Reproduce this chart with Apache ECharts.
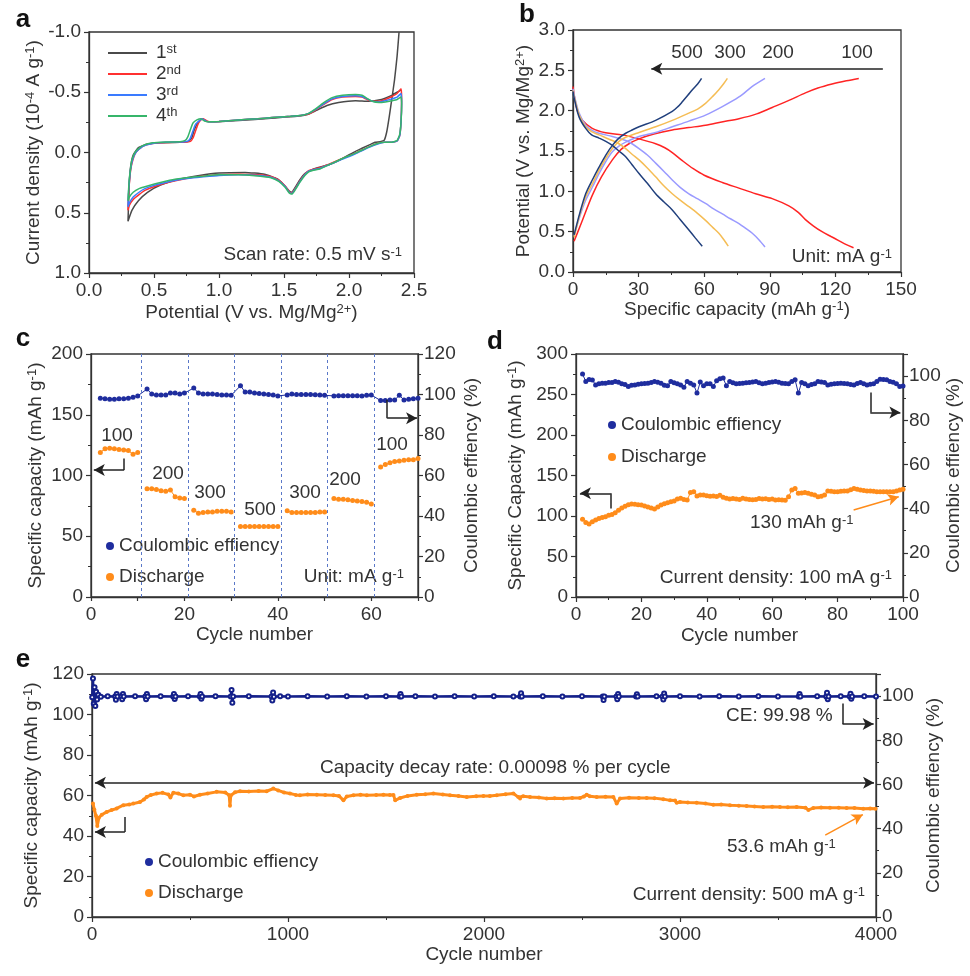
<!DOCTYPE html>
<html><head><meta charset="utf-8">
<script src="https://cdn.jsdelivr.net/npm/echarts@6/dist/echarts.min.js"></script>
<style>html,body{margin:0;padding:0;background:#fff}#c{width:970px;height:976px}</style>
</head><body><div id="c"></div>
<script>
// ---------------- Panel a : CV curves [V, current density] ----------------
const cvNames = ['1st', '2nd', '3rd', '4th'];
const cv1 = [[2.385,-1.0],[2.37,-0.80],[2.35,-0.60],[2.33,-0.45],[2.31,-0.30],[2.29,-0.17],[2.27,-0.10],[2.24,-0.09],[2.20,-0.085],[2.17,-0.07],[2.10,-0.035],[2.05,-0.01],[1.95,0.05],[1.85,0.10],[1.78,0.12],[1.72,0.14],[1.66,0.175],[1.62,0.23],[1.58,0.30],[1.56,0.33],[1.54,0.32],[1.50,0.27],[1.45,0.22],[1.35,0.18],[1.2,0.165],[1.0,0.17],[0.85,0.19],[0.7,0.22],[0.55,0.27],[0.45,0.33],[0.38,0.40],[0.33,0.48],[0.30,0.57],
  [0.305,0.40],[0.31,0.25],[0.32,0.12],[0.34,0.02],[0.38,-0.04],[0.45,-0.07],[0.55,-0.08],[0.7,-0.085],[0.76,-0.09],[0.79,-0.12],[0.81,-0.19],[0.84,-0.25],[0.87,-0.28],[0.9,-0.26],[0.95,-0.255],[1.15,-0.265],[1.4,-0.285],[1.6,-0.30],[1.68,-0.315],[1.75,-0.35],[1.83,-0.39],[1.92,-0.415],[2.05,-0.43],[2.15,-0.425],[2.25,-0.44],[2.32,-0.47],[2.37,-0.50],[2.40,-0.52]];
const cv2 = [[0.30,0.48],[0.303,0.38],[0.31,0.26],[0.32,0.15],[0.335,0.07],[0.36,0.0],[0.41,-0.05],[0.49,-0.075],[0.59,-0.083],[0.74,-0.087],[0.78,-0.093],[0.80,-0.12],[0.82,-0.18],[0.84,-0.24],[0.86,-0.27],[0.88,-0.28],[0.91,-0.26],[0.94,-0.255],[1.0,-0.258],[1.15,-0.27],[1.3,-0.28],[1.41,-0.29],[1.55,-0.30],[1.64,-0.31],[1.69,-0.32],[1.74,-0.35],[1.80,-0.395],[1.87,-0.44],[1.95,-0.46],[2.05,-0.465],[2.10,-0.46],[2.13,-0.445],[2.18,-0.425],[2.23,-0.425],[2.28,-0.44],[2.33,-0.465],[2.37,-0.49],[2.40,-0.53],
  [2.405,-0.45],[2.40,-0.25],[2.39,-0.14],[2.37,-0.095],[2.33,-0.085],[2.27,-0.085],[2.22,-0.075],[2.15,-0.045],[2.05,0.005],[1.95,0.05],[1.85,0.095],[1.78,0.125],[1.72,0.14],[1.69,0.15],[1.66,0.18],[1.62,0.24],[1.58,0.31],[1.56,0.335],[1.54,0.325],[1.51,0.28],[1.46,0.23],[1.40,0.20],[1.30,0.185],[1.15,0.18],[1.0,0.185],[0.85,0.20],[0.75,0.215],[0.62,0.245],[0.51,0.28],[0.43,0.315],[0.385,0.35],[0.34,0.39],[0.31,0.44],[0.30,0.48]];
const cv3 = [[0.30,0.45],[0.303,0.35],[0.31,0.24],[0.32,0.14],[0.335,0.06],[0.36,0.0],[0.41,-0.05],[0.49,-0.075],[0.59,-0.085],[0.72,-0.088],[0.76,-0.095],[0.78,-0.12],[0.80,-0.18],[0.82,-0.235],[0.85,-0.265],[0.87,-0.28],[0.90,-0.26],[0.93,-0.255],[1.0,-0.258],[1.15,-0.27],[1.3,-0.28],[1.41,-0.29],[1.55,-0.30],[1.64,-0.31],[1.69,-0.325],[1.74,-0.355],[1.80,-0.40],[1.87,-0.445],[1.95,-0.465],[2.05,-0.47],[2.10,-0.465],[2.13,-0.45],[2.18,-0.425],[2.23,-0.42],[2.28,-0.43],[2.33,-0.445],[2.37,-0.46],[2.40,-0.49],
  [2.405,-0.42],[2.40,-0.25],[2.39,-0.14],[2.37,-0.095],[2.33,-0.085],[2.27,-0.085],[2.22,-0.07],[2.15,-0.04],[2.05,0.01],[1.95,0.055],[1.85,0.10],[1.78,0.13],[1.72,0.145],[1.69,0.155],[1.66,0.185],[1.62,0.245],[1.58,0.315],[1.56,0.34],[1.54,0.33],[1.51,0.285],[1.46,0.235],[1.40,0.205],[1.30,0.19],[1.15,0.185],[1.0,0.19],[0.85,0.205],[0.75,0.215],[0.62,0.24],[0.51,0.27],[0.43,0.30],[0.385,0.33],[0.34,0.37],[0.31,0.42],[0.30,0.45]];
const cv4 = [[0.30,0.40],[0.305,0.30],[0.31,0.22],[0.32,0.13],[0.33,0.06],[0.36,-0.01],[0.41,-0.055],[0.49,-0.08],[0.59,-0.087],[0.70,-0.09],[0.74,-0.10],[0.76,-0.13],[0.78,-0.19],[0.80,-0.245],[0.83,-0.27],[0.86,-0.28],[0.89,-0.26],[0.92,-0.255],[1.0,-0.258],[1.15,-0.27],[1.3,-0.28],[1.41,-0.29],[1.55,-0.30],[1.64,-0.31],[1.69,-0.325],[1.74,-0.36],[1.80,-0.41],[1.87,-0.455],[1.95,-0.475],[2.05,-0.482],[2.10,-0.475],[2.13,-0.455],[2.18,-0.425],[2.23,-0.415],[2.28,-0.42],[2.33,-0.43],[2.37,-0.44],[2.40,-0.46],
  [2.405,-0.40],[2.40,-0.25],[2.39,-0.15],[2.37,-0.10],[2.33,-0.085],[2.27,-0.085],[2.22,-0.075],[2.15,-0.045],[2.05,0.005],[1.95,0.05],[1.85,0.10],[1.78,0.135],[1.72,0.15],[1.69,0.16],[1.66,0.19],[1.62,0.25],[1.58,0.32],[1.56,0.345],[1.54,0.335],[1.51,0.29],[1.46,0.24],[1.40,0.21],[1.30,0.195],[1.15,0.185],[1.0,0.185],[0.85,0.20],[0.75,0.21],[0.62,0.23],[0.51,0.26],[0.43,0.285],[0.385,0.30],[0.34,0.33],[0.31,0.37],[0.30,0.40]];

// ---------------- Panel b : charge/discharge [capacity, V] ----------------
const bRates = ['100', '200', '300', '500'];
const b100c = [[0.5,0.38],[4,0.62],[8.8,0.95],[13,1.18],[18,1.39],[22,1.52],[25.6,1.59],[30.2,1.65],[37,1.71],[45.4,1.76],[53,1.79],[60.6,1.82],[68,1.86],[75.9,1.90],[84,1.96],[91.1,2.04],[99,2.13],[106.3,2.22],[112,2.28],[118.5,2.33],[125,2.37],[130.7,2.40]];
const b100d = [[0,2.30],[0.5,2.2],[2,2.0],[4.3,1.88],[8.8,1.78],[14.9,1.725],[22.5,1.70],[30.2,1.65],[37.8,1.59],[42,1.54],[45.4,1.48],[50,1.38],[55,1.28],[60,1.2],[68.3,1.11],[75.9,1.04],[83.5,0.97],[91.1,0.91],[98.7,0.82],[103,0.74],[106.3,0.65],[110,0.57],[113.9,0.50],[118,0.44],[121.5,0.39],[125,0.34],[128.3,0.30]];
const b200c = [[0.5,0.45],[3,0.68],[5.8,0.89],[9,1.06],[11.9,1.22],[15,1.37],[18,1.49],[21,1.56],[24.1,1.61],[30.2,1.68],[37.8,1.73],[45.4,1.80],[53,1.87],[60.6,1.945],[68.3,2.05],[75.9,2.17],[82,2.30],[87.8,2.40]];
const b200d = [[0,2.27],[0.5,2.2],[2.8,1.97],[5.8,1.82],[8.5,1.76],[11.9,1.72],[18,1.68],[24.1,1.63],[27,1.59],[30.2,1.53],[34,1.45],[37.8,1.35],[41.5,1.25],[45.4,1.14],[49,1.05],[53,0.97],[56.8,0.91],[60.6,0.85],[64.5,0.78],[68.3,0.72],[72,0.66],[75.9,0.60],[79,0.54],[82,0.48],[85,0.40],[87.8,0.31]];
const b300c = [[0.5,0.43],[3,0.70],[5.8,0.93],[9,1.10],[11.9,1.26],[15,1.41],[18,1.53],[21,1.62],[24.1,1.67],[30.2,1.73],[37.8,1.80],[45.4,1.88],[53,1.97],[57,2.02],[60.6,2.09],[64,2.18],[66.7,2.26],[68.8,2.33],[70.6,2.40]];
const b300d = [[0,2.25],[0.5,2.18],[2.8,1.95],[5.8,1.80],[8.5,1.74],[11.9,1.70],[18,1.63],[21,1.59],[24.1,1.53],[27,1.46],[30.2,1.39],[34,1.29],[37.8,1.18],[41.5,1.07],[45.4,0.97],[49,0.89],[53,0.81],[56.8,0.73],[60.6,0.64],[64,0.55],[66.7,0.48],[69,0.40],[71,0.32]];
const b500c = [[0.5,0.46],[3,0.72],[5.8,0.97],[9,1.15],[11.9,1.30],[15,1.45],[18,1.57],[21,1.66],[24.1,1.72],[27,1.76],[30.2,1.80],[37.8,1.88],[45.4,1.99],[48,2.05],[50,2.11],[52.5,2.19],[54.6,2.26],[57,2.33],[58.8,2.40]];
const b500d = [[0,2.24],[0.5,2.16],[2.8,1.92],[5.8,1.78],[8.5,1.70],[11.9,1.66],[15,1.62],[18,1.57],[21,1.50],[24.1,1.43],[27,1.33],[30.2,1.22],[34,1.10],[37.8,0.97],[41.5,0.87],[45.4,0.77],[49,0.65],[53,0.52],[56,0.42],[59.1,0.32]];
const bArrow = [[141.7,2.52],[35.8,2.52]];

// ---------------- Panel c : rate performance (cycle 1..70) ----------------
const cDischarge = [null,119,122,122.5,122,121.5,121,120.5,117.5,119,
  null,89,89,88.5,87.5,87,88,82.5,81.5,81,
  null,71.5,69,69.5,70,70,70.5,70.5,70.5,70,
  null,58,58,58,58,58,58,58,58,58,
  null,71,69.5,69.5,69.5,69.5,69.5,69.5,70,70,
  null,81,80.5,80.5,80,79.5,79,78.5,78,76.5,
  null,107,109,110.5,111.5,112,112.5,113,113,114];
const cCE = [null,98.2,97.9,97.7,97.7,97.9,97.9,98.2,98.7,99.3,
  null,102.7,100.3,99.8,99.8,99.8,100.7,100.7,100.2,100.7,
  null,103.2,100.7,100.3,100.2,100.2,100,99.8,99.8,99.6,
  null,104.3,101.2,101.2,100.7,100.5,100.3,100,99.8,99.3,
  null,99.8,100.3,100,100,100,100,99.9,99.8,99.6,
  null,99.3,99.4,99.4,99.4,99.4,99.4,99.3,99.6,99.8,
  null,97,97,97.3,97.3,99.6,97.3,97.6,97.9,98.2];
const cDividers = [10.8, 20.8, 30.7, 40.8, 50.6, 60.6];
const cLeftBracket = [[7.1,114],[7.1,104.5],[0.6,104.5]];
const cRightBracket = [[63.4,97.4],[63.4,88.3],[69.8,88.3]];

// ---------------- Panel d : cycling at 100 mA/g (cycle 2..100) ----------------
const dDischarge = [96,92,90,93,95,97,98,99,101,102,
  104,107,110,112,114,114.7,114.5,113.8,113.5,112.5,
  111,110,108.5,111,113.5,115,116.5,117.6,118.5,121,
  121.8,120.5,119.7,129,130,124.6,126,125.8,125,124.5,
  124.6,124,125.5,123,122,121,121.5,121,120.5,121.8,
  121,120.5,120,120.5,121.5,121,121.3,120.5,121,119.7,
  120,119.7,119.5,123.7,132,134,128,128.5,129,128,
  127,126,123.7,124.5,125.8,131,130.5,130,130,130.5,
  131,131,132.5,134,133,132,131.5,131,131,130.5,
  130,130,130,130,130,130,131,132,133];
const dCE = [100.9,97.6,98.5,98.2,96,96.5,96.8,96.8,97.1,97.1,
  97.6,97.2,96.5,96.2,95.3,95.8,96,96.3,96.5,96.6,
  96.8,97.1,97.6,97.2,96.8,95.9,95.6,97.6,97,96.5,
  96,95,97.6,96.8,96,92.3,97.3,95.6,96.5,96.5,
  95.3,97.9,98.8,99.1,95.6,97.6,97,96.5,96.6,96.8,
  97,97.1,97.3,97.6,97,96.5,96.8,97.1,97.3,97.6,
  97.2,96.8,96.6,96.5,97.5,98.3,92.3,97.1,96.5,95.6,
  96.2,96.5,97.6,97.3,97.1,96,96.3,96.5,96.7,96.8,
  96.6,96.5,96.2,96,96.6,97.1,96.5,96,96.3,96.5,
  97.6,98.6,98.5,98.3,97.6,97.2,96.5,95.3,95.5];
const dFirstCycle = 2;
const dLeftBracket = [[10.6,109.4],[10.6,128],[1.2,128]];
const dRightBracket = [[90,92.6],[90,83.5],[99.2,83.5]];
const dNoteArrow = [[84.9,107.3],[98.7,123.8]];

// ---------------- Panel e : long cycling at 500 mA/g [cycle, value] ----------------
const eDischarge = [[5,56],[12,53],[20,50],[27,45],[35,49],[50,50.5],[75,51.9],[100,52.8],[126,53.6],[160,55.2],[190,55.5],[211,56],[245,56.8],[265,58],[279,59.3],[300,60.2],[330,61],[360,61.3],[390,60.5],[400,59],[415,61.4],[440,61],[466,60.1],[500,60.4],[520,59.5],[551,60.4],[590,61],[636,61.8],[680,61.5],[700,60.1],[704,55],[708,60],[730,61.6],[755,62.1],[800,62],[850,62.2],[891,62.1],[925,63.4],[950,62.5],[980,61.5],[1010,61],[1040,60.3],[1061,60.1],[1100,60.5],[1147,60.4],[1190,60.3],[1232,60.1],[1260,59.8],[1283,57.6],[1300,59.5],[1334,60.1],[1370,60.4],[1402,60.1],[1450,60.3],[1487,60.4],[1520,60.2],[1538,60.3],[1547,57.6],[1572,58.8],[1610,59.8],[1657,60.4],[1700,60.6],[1742,61],[1790,60.5],[1827,60.1],[1870,59.8],[1912,59.3],[1960,59.6],[1997,59.8],[2030,59.8],[2065,60.1],[2110,60.6],[2150,61],[2175,59.2],[2184,58.5],[2200,59.6],[2235,59.3],[2280,59],[2320,58.5],[2360,58.7],[2405,58.5],[2450,58.8],[2490,58.8],[2510,59.5],[2524,60.4],[2540,59.6],[2575,59.3],[2620,59.4],[2660,59.3],[2677,56],[2694,58.5],[2740,58.9],[2790,58.8],[2830,58.8],[2870,58.7],[2915,58.2],[2949,57.6],[2975,57.5],[2983,56.4],[3000,56.8],[3040,56.6],[3085,56.4],[3130,56],[3170,55.4],[3210,55.5],[3255,55.2],[3300,55],[3340,54.8],[3380,54.6],[3425,54.3],[3470,54.5],[3510,54.3],[3550,54.2],[3595,54.3],[3640,54],[3655,52.9],[3680,53.8],[3720,54.1],[3765,54],[3810,53.9],[3850,53.8],[3890,53.8],[3935,53.5],[3970,53.6],[3998,53.5]];
const eCE = [[1,99.5],[5,108],[9,96.5],[13,104],[17,95.5],[21,102],[26,98.5],[32,100.6],[45,99.7],[80,99.9],[118,99.8],[122,98.4],[126,101],[130,99.8],[150,99.9],[154,98.6],[158,101],[162,99.8],[220,99.9],[272,99.8],[276,98.6],[280,101],[284,99.8],[350,99.9],[414,99.8],[418,101],[422,98.7],[426,99.8],[490,99.9],[550,99.8],[554,101],[558,98.8],[562,99.8],[630,99.9],[708,99.8],[712,102.8],[716,97],[720,99.8],[800,99.9],[916,99.8],[920,98],[924,101.6],[928,99.7],[960,99.9],[1000,99.8],[1100,99.9],[1200,99.8],[1300,99.9],[1400,99.8],[1500,99.9],[1570,99.8],[1574,101],[1578,99.8],[1650,99.9],[1750,99.8],[1850,99.9],[1950,99.8],[2050,99.9],[2150,99.8],[2185,99.8],[2189,101.3],[2193,99.8],[2300,99.9],[2400,99.8],[2500,99.9],[2606,99.8],[2610,98.2],[2614,99.8],[2676,99.8],[2680,98.6],[2684,100.9],[2688,99.8],[2776,99.8],[2780,100.8],[2784,99.8],[2880,99.9],[2911,99.8],[2915,98.5],[2919,101.2],[2923,99.8],[3000,99.9],[3100,99.8],[3200,99.9],[3300,99.8],[3400,99.9],[3500,99.8],[3606,99.8],[3610,101],[3614,99.8],[3700,99.9],[3746,99.8],[3750,101.5],[3754,98.6],[3758,99.8],[3820,99.9],[3866,99.8],[3870,101.1],[3874,98.8],[3878,99.8],[3940,99.9],[4000,99.8]];
const eDecayArrow = [[15,66.3],[3990,66.3]];
const eLeftBracket = [[168,49.4],[168,42],[15,42]];
const eRightBracket = [[3829,96.7],[3829,87.4],[3988,87.4]];
const eNoteArrow = [[3741,40.4],[3933,50.6]];

// ---------------- styling ----------------
const FONT = '"Liberation Sans", Arial, sans-serif';
const FS = 19;
const TXT = '#333';
const NAVY = '#1f2d9e';
const ORANGE = '#ff8c1a';
const supRich = {sup: {fontSize: 13, verticalAlign: 'top', fontFamily: FONT, color: TXT}};

function axis(o) {
  const base = {
    type: 'value',
    axisLine: {show: true, onZero: false, lineStyle: {color: '#333', width: 1.3}},
    axisTick: {show: true, inside: false, length: 5, lineStyle: {color: '#333', width: 1.2}},
    minorTick: {show: true, splitNumber: 2, length: 3, lineStyle: {color: '#333', width: 1}},
    splitLine: {show: false},
    minorSplitLine: {show: false},
    nameLocation: 'middle',
    nameRotate: o.nameRotate,
    nameTextStyle: {fontSize: FS, color: TXT, fontFamily: FONT, rich: supRich}
  };
  const lab = Object.assign({fontSize: FS, color: TXT, fontFamily: FONT, margin: 8, formatter: v => String(v)}, o.axisLabel || {});
  const r = Object.assign(base, o);
  r.axisLabel = lab;
  return r;
}
const f1 = v => v.toFixed(1);

function bracket(pts, color) {
  return [
    [{coord: pts[0], symbol: 'none', lineStyle: {color: color || '#222', width: 1.5, type: 'solid'}}, {coord: pts[1], symbol: 'none'}],
    [{coord: pts[1], symbol: 'none', lineStyle: {color: color || '#222', width: 1.5, type: 'solid'}}, {coord: pts[2], symbol: 'arrow'}]
  ];
}
function arrow(pts, color, both) {
  return [{coord: pts[0], symbol: both ? 'arrow' : 'none', lineStyle: {color: color, width: 1.5, type: 'solid'}}, {coord: pts[1], symbol: 'arrow'}];
}
const mlBase = {silent: true, animation: false, symbol: ['none', 'none'], symbolSize: [9, 11], label: {show: false}, lineStyle: {color: '#222', width: 1.5, type: 'solid'}, emphasis: {disabled: true}};

function text(x, y, t, align, extra) {
  return Object.assign({
    type: 'text', silent: true,
    style: Object.assign({x: x, y: y, text: t, fill: TXT, fontSize: FS, fontFamily: FONT,
      align: align || 'left', verticalAlign: 'middle', textAlign: align || 'left', textVerticalAlign: 'middle',
      rich: {sup: {fontSize: 13, verticalAlign: 'top', fontFamily: FONT, fill: TXT, color: TXT}}}, extra || {})
  });
}

const cvColors = ['#4a4a4a', '#ff3030', '#3a7bff', '#36b56a'];
const bColors = {'100': '#ff2424', '200': '#9a9aff', '300': '#f5bd55', '500': '#203f7c'};
const bData = {'100': [b100c, b100d], '200': [b200c, b200d], '300': [b300c, b300d], '500': [b500c, b500d]};

const series = [];
[cv1, cv2, cv3, cv4].forEach((d, i) => series.push({
  type: 'line', name: cvNames[i], xAxisIndex: 0, yAxisIndex: 0, data: d, symbol: 'none',
  lineStyle: {width: 1.5, color: cvColors[i]}, itemStyle: {color: cvColors[i]}, smooth: 0.15, clip: true
}));
bRates.forEach((r, k) => bData[r].forEach((d, j) => {
  const s = {type: 'line', name: 'b' + r + (j ? 'd' : 'c'), xAxisIndex: 1, yAxisIndex: 1, data: d, symbol: 'none',
    lineStyle: {width: 1.5, color: bColors[r]}, itemStyle: {color: bColors[r]}, smooth: 0.3, z: 2 + k};
  if (k === 0 && j === 0) s.markLine = Object.assign({}, mlBase, {data: [arrow(bArrow, '#222')]});
  series.push(s);
}));
// c
series.push({type: 'line', name: 'Coulombic effiency', xAxisIndex: 2, yAxisIndex: 3,
  data: cCE.map((v, i) => [i + 1, v == null ? '-' : v]), connectNulls: true,
  symbol: 'circle', symbolSize: 5, lineStyle: {width: 1, color: NAVY}, itemStyle: {color: NAVY},
  markLine: Object.assign({}, mlBase, {data: bracket(cRightBracket)})});
series.push({type: 'line', name: 'Discharge', xAxisIndex: 2, yAxisIndex: 2,
  data: cDischarge.map((v, i) => [i + 1, v == null ? '-' : v]), connectNulls: false,
  symbol: 'circle', symbolSize: 5, lineStyle: {width: 1, color: ORANGE}, itemStyle: {color: ORANGE},
  markLine: Object.assign({}, mlBase, {data: cDividers.map(x => ({xAxis: x, lineStyle: {type: [3, 3], color: '#5a78c8', width: 1}})).concat(bracket(cLeftBracket))})});
// d
series.push({type: 'line', name: 'Coulombic effiency', xAxisIndex: 3, yAxisIndex: 5,
  data: dCE.map((v, i) => [i + dFirstCycle, v]),
  symbol: 'circle', symbolSize: 5, lineStyle: {width: 1, color: NAVY}, itemStyle: {color: NAVY},
  markLine: Object.assign({}, mlBase, {data: bracket(dRightBracket)})});
series.push({type: 'line', name: 'Discharge', xAxisIndex: 3, yAxisIndex: 4,
  data: dDischarge.map((v, i) => [i + dFirstCycle, v]),
  symbol: 'circle', symbolSize: 5, lineStyle: {width: 1, color: ORANGE}, itemStyle: {color: ORANGE},
  markLine: Object.assign({}, mlBase, {data: bracket(dLeftBracket).concat([arrow(dNoteArrow, ORANGE)])})});
// e
series.push({type: 'line', name: 'Coulombic effiency', xAxisIndex: 4, yAxisIndex: 7, data: eCE,
  symbol: 'emptyCircle', symbolSize: 4, showSymbol: true, lineStyle: {width: 2.5, color: '#14208a'}, itemStyle: {color: '#14208a', borderWidth: 1},
  markLine: Object.assign({}, mlBase, {data: bracket(eRightBracket)})});
series.push({type: 'line', name: 'Discharge', xAxisIndex: 4, yAxisIndex: 6, data: eDischarge,
  symbol: 'circle', symbolSize: 4, showSymbol: true, lineStyle: {width: 3, color: ORANGE}, itemStyle: {color: ORANGE},
  markLine: Object.assign({}, mlBase, {data: [arrow(eDecayArrow, '#222', true)].concat(bracket(eLeftBracket)).concat([arrow(eNoteArrow, ORANGE)])})});

const gridStyle = {show: true, borderColor: '#333', borderWidth: 1.3, backgroundColor: 'transparent', containLabel: false, outerBoundsMode: 'none'};
const legendCE = (left, top, gap) => ({
  data: ['Coulombic effiency', 'Discharge'], left: left, top: top, orient: 'vertical', icon: 'circle',
  itemWidth: 8, itemHeight: 8, itemGap: gap, padding: 0, selectedMode: false,
  textStyle: {fontSize: FS, color: TXT, fontFamily: FONT, lineHeight: 20}
});

const option = {
  animation: false,
  backgroundColor: '#fff',
  textStyle: {fontFamily: FONT},
  grid: [
    Object.assign({left: 89, top: 32, width: 325, height: 241}, gridStyle),
    Object.assign({left: 573, top: 30, width: 328, height: 242}, gridStyle),
    Object.assign({left: 91, top: 354, width: 327, height: 243}, gridStyle),
    Object.assign({left: 576, top: 354, width: 327, height: 243}, gridStyle),
    Object.assign({left: 92, top: 674, width: 784, height: 243}, gridStyle)
  ],
  xAxis: [
    axis({gridIndex: 0, min: 0, max: 2.5, interval: 0.5, axisLabel: {formatter: f1}, name: 'Potential (V vs. Mg/Mg{sup|2+})', nameGap: 30}),
    axis({gridIndex: 1, min: 0, max: 150, interval: 30, name: 'Specific capacity (mAh g{sup|-1})', nameGap: 27}),
    axis({gridIndex: 2, min: 0, max: 70, interval: 10, minorTick: {show: false}, axisTick: {show: true, inside: false, length: 4, lineStyle: {color: '#333', width: 1.2}},
      axisLabel: {formatter: v => (v % 20 === 0 ? String(v) : '')}, name: 'Cycle number', nameGap: 26}),
    axis({gridIndex: 3, min: 0, max: 100, interval: 20, name: 'Cycle number', nameGap: 29}),
    axis({gridIndex: 4, min: 0, max: 4000, interval: 1000, name: 'Cycle number', nameGap: 28})
  ],
  yAxis: [
    axis({gridIndex: 0, min: -1, max: 1, interval: 0.5, inverse: true, axisLabel: {formatter: f1}, name: 'Current density (10{sup|-4} A g{sup|-1})', nameRotate: 90, nameGap: 46}),
    axis({gridIndex: 1, min: 0, max: 3, interval: 0.5, axisLabel: {formatter: f1}, name: 'Potential (V vs. Mg/Mg{sup|2+})', nameRotate: 90, nameGap: 40}),
    axis({gridIndex: 2, min: 0, max: 200, interval: 50, name: 'Specific capacity (mAh g{sup|-1})', nameRotate: 90, nameGap: 46}),
    axis({gridIndex: 2, position: 'right', min: 0, max: 120, interval: 20, axisLabel: {margin: 6}, name: 'Coulombic effiency (%)', nameRotate: 90, nameGap: 44}),
    axis({gridIndex: 3, min: 0, max: 300, interval: 50, name: 'Specific Capacity (mAh g{sup|-1})', nameRotate: 90, nameGap: 51}),
    axis({gridIndex: 3, position: 'right', min: 0, max: 110, interval: 20, axisLabel: {margin: 6, showMaxLabel: false}, name: 'Coulombic effiency (%)', nameRotate: 90, nameGap: 39}),
    axis({gridIndex: 4, min: 0, max: 120, interval: 20, name: 'Specific capacity (mAh g{sup|-1})', nameRotate: 90, nameGap: 45}),
    axis({gridIndex: 4, position: 'right', min: 0, max: 110, interval: 20, axisLabel: {margin: 6, showMaxLabel: false}, name: 'Coulombic effiency (%)', nameRotate: 90, nameGap: 39})
  ],
  legend: [
    {data: cvNames, left: 108, top: 43, orient: 'vertical', icon: 'rect', itemWidth: 39, itemHeight: 2, itemGap: 1, padding: 0, selectedMode: false,
      formatter: n => { const m = n.match(/^(\d+)(\D+)$/); return '{n|' + m[1] + '}{s|' + m[2] + '}'; },
      textStyle: {fontSize: FS, color: TXT, fontFamily: FONT, lineHeight: 20, padding: [0, 0, 0, 4],
        rich: {n: {fontSize: FS, color: TXT, fontFamily: FONT}, s: {fontSize: 13, color: TXT, fontFamily: FONT, verticalAlign: 'top'}}}},
    legendCE(106, 536, 11),
    legendCE(608, 415, 12),
    legendCE(145, 852, 11)
  ],
  graphic: [
    text(23, 20, 'a', 'center', {fontSize: 26, fontWeight: 'bold', fill: '#111'}),
    text(527, 15, 'b', 'center', {fontSize: 26, fontWeight: 'bold', fill: '#111'}),
    text(23, 339, 'c', 'center', {fontSize: 26, fontWeight: 'bold', fill: '#111'}),
    text(495, 342, 'd', 'center', {fontSize: 26, fontWeight: 'bold', fill: '#111'}),
    text(23, 660, 'e', 'center', {fontSize: 26, fontWeight: 'bold', fill: '#111'}),
    text(402, 255, 'Scan rate: 0.5 mV s{sup|-1}', 'right'),
    text(687, 53, bRates[3], 'center'), text(730, 53, bRates[2], 'center'), text(778, 53, bRates[1], 'center'), text(857, 53, bRates[0], 'center'),
    text(892, 257, 'Unit: mA g{sup|-1}', 'right'),
    text(117, 436, '100', 'center'), text(168, 474, '200', 'center'), text(210, 493, '300', 'center'), text(260, 510, '500', 'center'),
    text(305, 493, '300', 'center'), text(345, 480, '200', 'center'), text(392, 445, '100', 'center'),
    text(404, 577, 'Unit: mA g{sup|-1}', 'right'),
    text(750, 523, '130 mAh g{sup|-1}', 'left'),
    text(892, 578, 'Current density: 100 mA g{sup|-1}', 'right'),
    text(320, 768, 'Capacity decay rate: 0.00098 % per cycle', 'left'),
    text(726, 716, 'CE: 99.98 %', 'left'),
    text(727, 847, '53.6 mAh g{sup|-1}', 'left'),
    text(865, 895, 'Current density: 500 mA g{sup|-1}', 'right')
  ],
  series: series
};
const chart = echarts.init(document.getElementById('c'), null, {renderer: 'canvas'});
chart.setOption(option);
</script></body></html>
